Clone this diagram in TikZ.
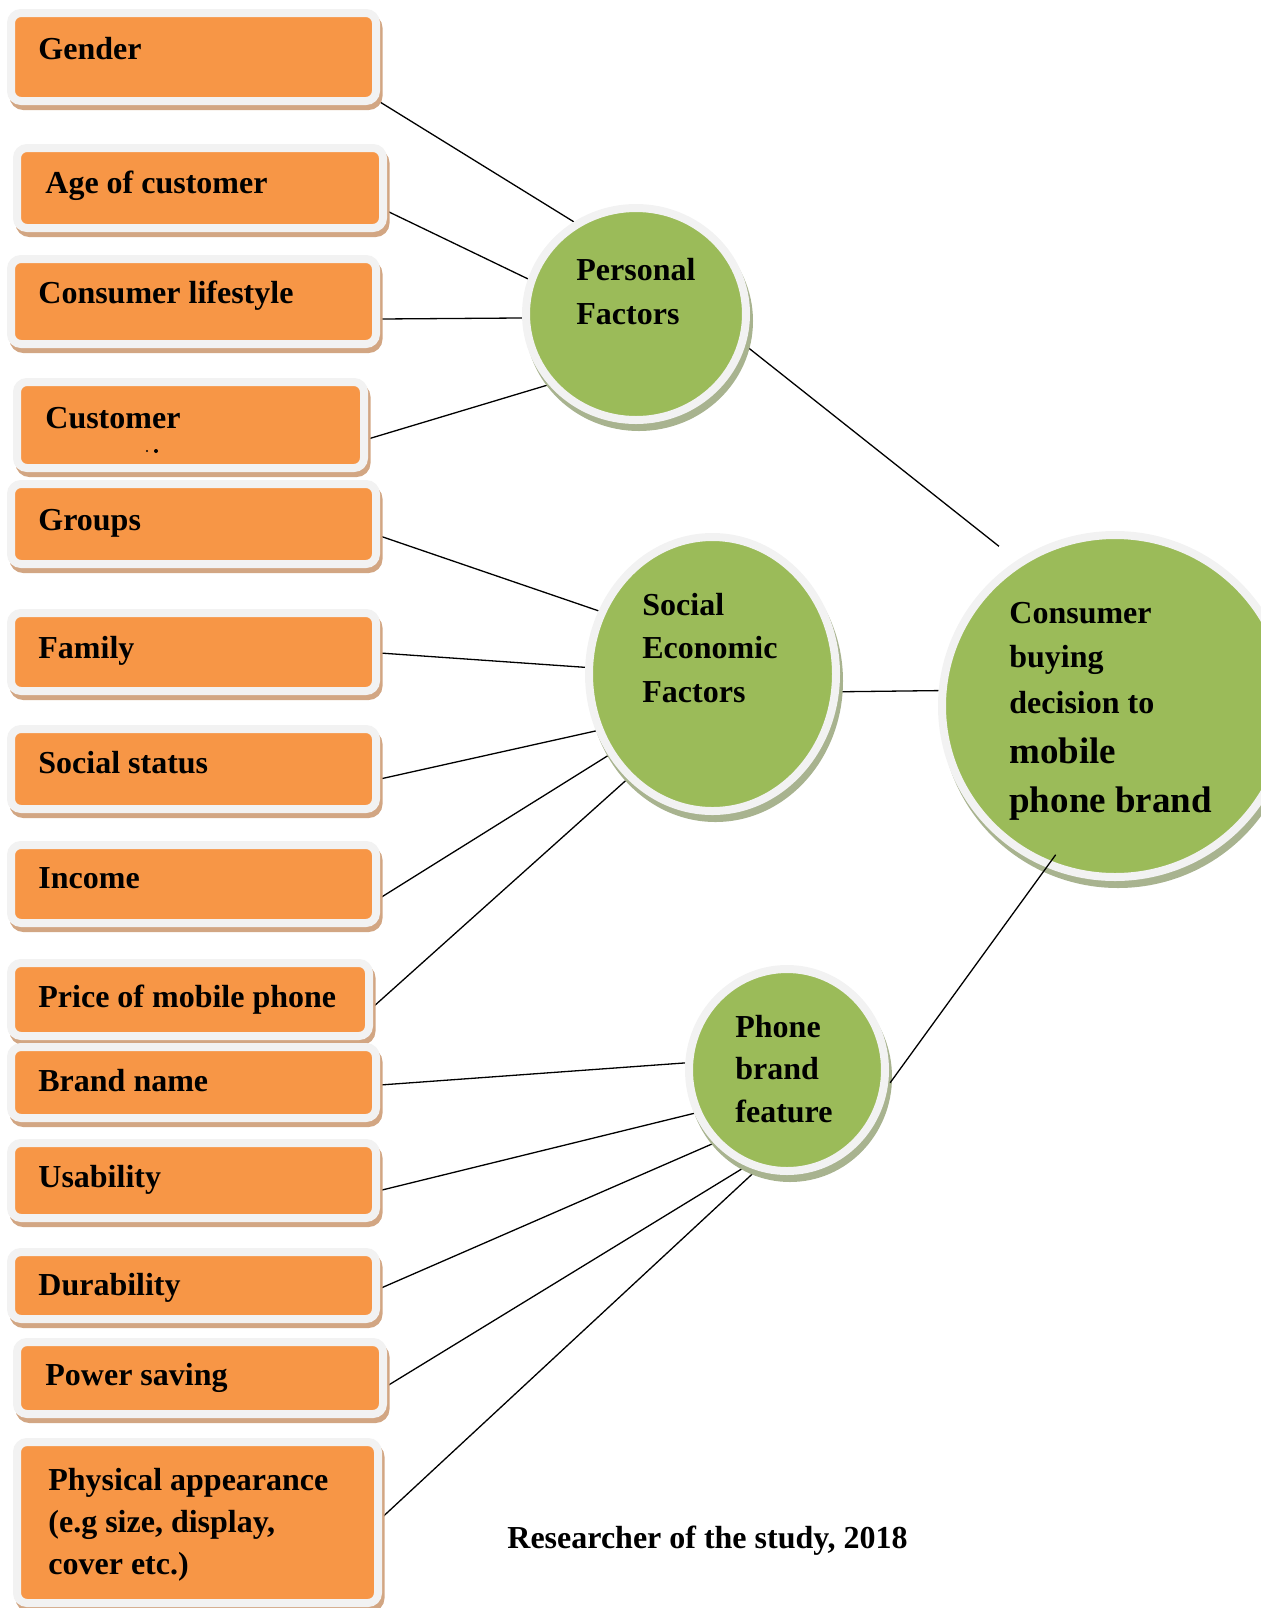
\documentclass[tikz,border=0pt]{standalone}
\usepackage{fontspec}
\setmainfont{Liberation Serif}
\usetikzlibrary{shapes.geometric,calc,backgrounds}
\definecolor{boxorange}{HTML}{F79646}
\definecolor{framegray}{HTML}{F2F2F2}
\definecolor{boxshadow}{HTML}{D2A683}
\definecolor{circgreen}{HTML}{9BBB59}
\definecolor{circshadow}{HTML}{A8B38F}
\begin{document}
\begin{tikzpicture}[x=0.5pt,y=-0.5pt,
  fbox/.style={rectangle, rounded corners=5pt, inner sep=0pt, fill=boxorange, draw=framegray, line width=4pt,
     preaction={fill=boxshadow, draw=boxshadow, line width=4pt, transform canvas={xshift=1.25pt,yshift=-2.5pt}}},
  fcirc/.style={ellipse, inner sep=0pt, fill=circgreen, draw=framegray, line width=4pt,
     preaction={fill=circshadow, draw=circshadow, line width=4pt, transform canvas={xshift=1.5pt,yshift=-3.5pt}}},
  txt/.style={inner sep=0pt, anchor=base west, font=\fontsize{16}{19}\selectfont\bfseries},
  bigtxt/.style={inner sep=0pt, anchor=base west, font=\fontsize{18.5}{22}\selectfont\bfseries},
  conn/.style={draw=black, line width=0.65pt}
]
\useasboundingbox (0,0) rectangle (1261,1608);

% left boxes
\node[fbox, minimum width=182.5pt, minimum height=44pt] (gender) at (193.5,57) {};
\node[txt] (gender-t) at (38,59) {Gender};
\node[fbox, minimum width=183pt, minimum height=40pt] (age) at (200,188) {};
\node[txt] (age-t) at (45,193) {Age of customer};
\node[fbox, minimum width=182.5pt, minimum height=42.5pt] (lifestyle) at (193.5,301.5) {};
\node[txt] (lifestyle-t) at (38,303) {Consumer lifestyle};
\node[fbox, minimum width=173.5pt, minimum height=43pt] (customer) at (190.5,425) {};
\node[txt] (customer-t) at (45,428) {Customer};
\fill (147,451) circle[radius=1.1];
\fill (156,451) circle[radius=2];
\node[fbox, minimum width=182.5pt, minimum height=40pt] (groups) at (193.5,524) {};
\node[txt] (groups-t) at (38,530) {Groups};
\node[fbox, minimum width=182.5pt, minimum height=39pt] (family) at (193.5,652) {};
\node[txt] (family-t) at (38,658) {Family};
\node[fbox, minimum width=182.5pt, minimum height=40pt] (status) at (193.5,769) {};
\node[txt] (status-t) at (38,773) {Social status};
\node[fbox, minimum width=182.5pt, minimum height=39pt] (income) at (193.5,884) {};
\node[txt] (income-t) at (38,888) {Income};
\node[fbox, minimum width=179pt, minimum height=36.5pt] (price) at (190,999.5) {};
\node[txt] (price-t) at (38,1007) {Price of mobile phone};
\node[fbox, minimum width=182.5pt, minimum height=35.5pt] (brand) at (193.5,1082.5) {};
\node[txt] (brand-t) at (38,1091) {Brand name};
\node[fbox, minimum width=182.5pt, minimum height=37.5pt] (usability) at (193.5,1180.5) {};
\node[txt] (usability-t) at (38,1187) {Usability};
\node[fbox, minimum width=182.5pt, minimum height=33.5pt] (durability) at (193.5,1285.5) {};
\node[txt] (durability-t) at (38,1295) {Durability};
\node[fbox, minimum width=183pt, minimum height=36pt] (power) at (200,1378) {};
\node[txt] (power-t) at (45,1385) {Power saving};
\node[fbox, minimum width=180.5pt, minimum height=80.5pt] (physical) at (197.5,1522.5) {};
\node[txt] (physical-t1) at (48,1490) {Physical appearance};
\node[txt] (physical-t2) at (48,1532) {(e.g size, display,};
\node[txt] (physical-t3) at (48,1574) {cover etc.)};

% circles
\node[fcirc, minimum width=110pt, minimum height=106pt] (personal) at (636,314) {};
\node[txt] (personal-t1) at (576,280) {Personal};
\node[txt] (personal-t2) at (576,324) {Factors};
\node[fcirc, minimum width=123.5pt, minimum height=137pt] (social) at (712.5,674) {};
\node[txt] (social-t1) at (642,615) {Social};
\node[txt] (social-t2) at (642,658) {Economic};
\node[txt] (social-t3) at (642,702) {Factors};
\node[fcirc, minimum width=98pt, minimum height=101pt] (phone) at (787,1070) {};
\node[txt] (phone-t1) at (735,1037) {Phone};
\node[txt] (phone-t2) at (735,1079) {brand};
\node[txt] (phone-t3) at (735,1122) {feature};
\node[fcirc, minimum width=173pt, minimum height=171pt] (consumer) at (1115,706) {};
\node[txt] (consumer-t1) at (1009,623) {Consumer};
\node[txt] (consumer-t2) at (1009,667) {buying};
\node[txt] (consumer-t3) at (1009,713) {decision to};
\node[bigtxt] (consumer-t4) at (1009,763) {mobile};
\node[bigtxt] (consumer-t5) at (1009,812) {phone brand};

\node[txt] (source) at (507,1548) {Researcher of the study, 2018};

% connectors
\begin{scope}[on background layer]
\draw[conn] ($(gender.east)+(0,45)$) -- (personal.124.5);
\draw[conn] ($(age.east)+(0,23)$) -- (personal.162);
\draw[conn] ($(lifestyle.east)+(0,17.5)$) -- (personal.182);
\draw[conn] ($(customer.east)+(0,14)$) -- (personal.219);
\draw[conn, shorten >=11.4pt] (personal.344) -- (consumer.124.5);
\draw[conn] ($(groups.east)+(0,12)$) -- (social.151.5);
\draw[conn] ($(family.east)+(0,1)$) -- (social.177);
\draw[conn] ($(status.east)+(0,10)$) -- (social.206);
\draw[conn] ($(income.east)+(0,14)$) -- (social.218);
\draw[conn] ($(price.east)+(0,7.5)$) -- (social.231);
\draw[conn] (social.352) -- (consumer.175);
\draw[conn] ($(brand.east)+(0,2.5)$) -- (phone.176.5);
\draw[conn] ($(usability.east)+(0,10)$) -- (phone.205);
\draw[conn] ($(durability.east)+(0,3)$) -- (phone.225);
\draw[conn] ($(power.east)+(0,8)$) -- (phone.247.5);
\draw[conn] ($(physical.east)+(0,-5)$) -- (phone.253.5);
\end{scope}
\draw[conn, shorten <=2pt, shorten >=-7.8pt] (phone.351) -- (consumer.247);
\end{tikzpicture}
\end{document}
